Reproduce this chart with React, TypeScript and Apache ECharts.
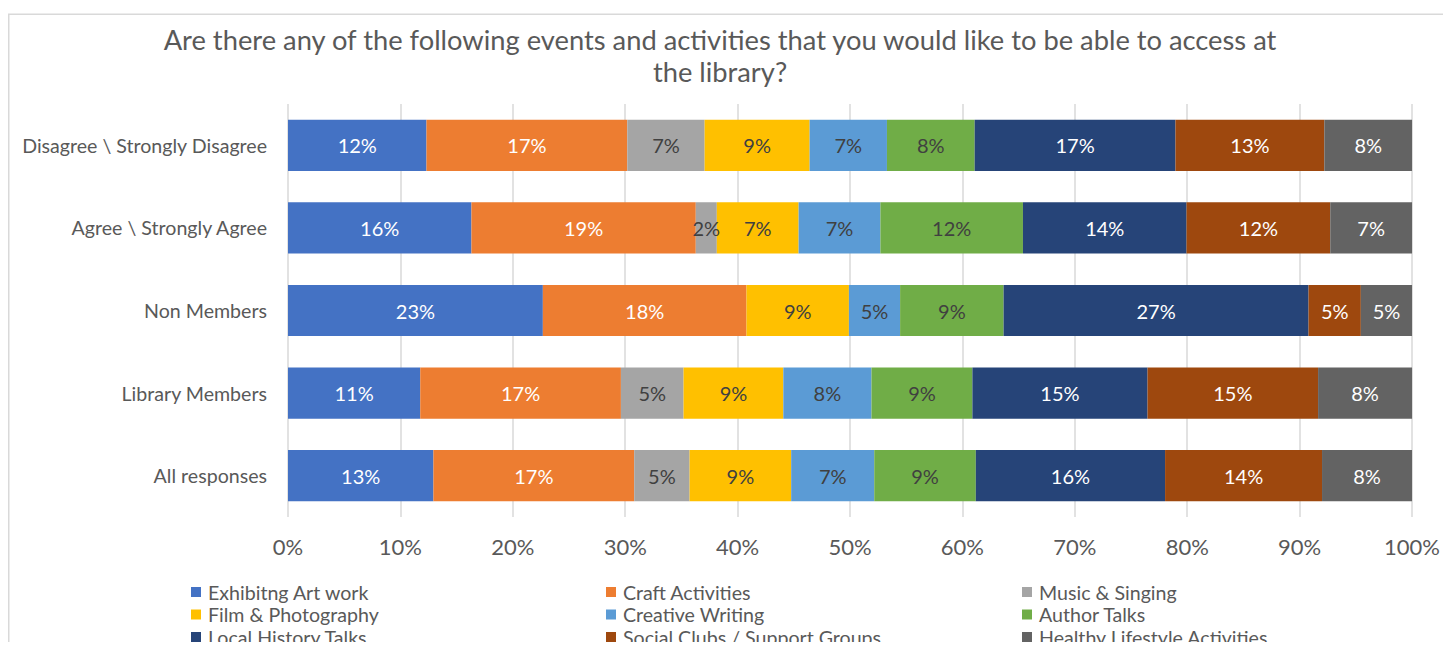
import React, { useEffect, useRef } from "react";
import * as echarts from "echarts";

const titleText =
  "Are there any of the following events and activities that you would like to be able to access at\nthe library?";

const categories = [
  "All responses",
  "Library Members",
  "Non Members",
  "Agree \\ Strongly Agree",
  "Disagree \\ Strongly Disagree",
];

const seriesNames = [
  "Exhibitng Art work",
  "Craft Activities",
  "Music & Singing",
  "Film & Photography",
  "Creative Writing",
  "Author Talks",
  "Local History Talks",
  "Social Clubs / Support Groups",
  "Healthy Lifestyle Activities",
];

// values in category order: All, Library Members, Non Members, Agree, Disagree
const exhibitingArt = [12.6, 11.4, 22.9, 15.7, 12.0];
const craftActivities = [17.4, 17.3, 18.3, 19.2, 17.4];
const musicSinging = [4.8, 5.4, 0, 1.8, 6.7];
const filmPhotography = [8.8, 8.6, 9.2, 7.0, 9.1];
const creativeWriting = [7.2, 7.6, 4.6, 7.0, 6.7];
const authorTalks = [8.8, 8.7, 9.3, 12.2, 7.6];
const localHistory = [16.4, 15.1, 27.4, 14.0, 17.4];
const socialClubs = [13.6, 14.7, 4.7, 12.3, 12.9];
const healthyLifestyle = [7.8, 8.1, 4.6, 7.0, 7.6];

const xTicks = [0, 100, 10];

const seriesValues = [
  exhibitingArt,
  craftActivities,
  musicSinging,
  filmPhotography,
  creativeWriting,
  authorTalks,
  localHistory,
  socialClubs,
  healthyLifestyle,
];

const colors = [
  "#4472C4",
  "#ED7D31",
  "#A5A5A5",
  "#FFC000",
  "#5B9BD5",
  "#70AD47",
  "#264478",
  "#9E480E",
  "#636363",
];
const labelColors = [
  "#ffffff",
  "#ffffff",
  "#404040",
  "#404040",
  "#404040",
  "#404040",
  "#ffffff",
  "#ffffff",
  "#ffffff",
];

const FONT = "Lato, 'Open Sans', sans-serif";

export default function App() {
  const ref = useRef<HTMLDivElement>(null);
  useEffect(() => {
    if (!ref.current) return;
    const chart = echarts.init(ref.current, undefined, { renderer: "svg" });
    const totals = categories.map((_, ci) =>
      seriesValues.reduce((s, arr) => s + arr[ci], 0)
    );
    const series = seriesNames.map((name, si) => ({
      name,
      type: "bar",
      stack: "total",
      barCategoryGap: "38%",
      itemStyle: { color: colors[si] },
      label: {
        show: true,
        position: "inside",
        color: labelColors[si],
        fontFamily: FONT,
        fontSize: 20,
        formatter: (p: any) => {
          const raw = seriesValues[si][p.dataIndex];
          return raw > 0 ? Math.round(raw) + "%" : "";
        },
      },
      emphasis: { disabled: true },
      data: seriesValues[si].map((v, ci) => (v / totals[ci]) * 100),
    }));
    const col = (names: string[], left: number) => ({
      type: "plain",
      data: names,
      orient: "vertical",
      left,
      top: 573,
      height: 90,
      itemWidth: 10,
      itemHeight: 10,
      itemGap: 0.5,
      icon: "rect",
      selectedMode: false,
      textStyle: {
        color: "#595959",
        fontFamily: FONT,
        fontSize: 19.6,
        lineHeight: 22,
        padding: [0, 0, 0, 2],
      },
      padding: 0,
    });
    chart.setOption({
      animation: false,
      textStyle: { fontFamily: FONT },
      title: {
        text: titleText,
        left: 707,
        top: 10,
        textAlign: "center",
        textStyle: {
          color: "#595959",
          fontFamily: FONT,
          fontSize: 27.3,
          fontWeight: "normal",
          lineHeight: 32,
        },
      },
      graphic: [
        {
          type: "rect",
          shape: { x: 0.75, y: 6.25, width: 3000, height: 3000 },
          style: { fill: "none", stroke: "#d9d9d9", lineWidth: 1.5 },
          silent: true,
        },
      ],
      legend: [
        col([seriesNames[0], seriesNames[3], seriesNames[6]], 183),
        col([seriesNames[1], seriesNames[4], seriesNames[7]], 598),
        col([seriesNames[2], seriesNames[5], seriesNames[8]], 1014),
      ],
      grid: { left: 280, right: 24, top: 96, bottom: 133, containLabel: false },
      xAxis: {
        type: "value",
        min: xTicks[0],
        max: xTicks[1],
        interval: xTicks[2],
        axisLine: { show: false },
        axisTick: { show: false },
        splitLine: { show: true, lineStyle: { color: "#d9d9d9", width: 1.5 } },
        axisLabel: {
          formatter: "{value}%",
          color: "#595959",
          fontFamily: FONT,
          fontSize: 22,
          margin: 18,
        },
      },
      yAxis: {
        type: "category",
        data: categories,
        axisLine: { show: false },
        axisTick: { show: false },
        axisLabel: {
          color: "#595959",
          fontFamily: FONT,
          fontSize: 19.6,
          margin: 21,
          padding: [6, 0, 0, 0],
        },
      },
      series,
    });
    return () => chart.dispose();
  }, []);
  return (
    <div
      ref={ref}
      style={{ width: 1435, height: 642, marginBottom: -8, overflow: "hidden" }}
    />
  );
}
